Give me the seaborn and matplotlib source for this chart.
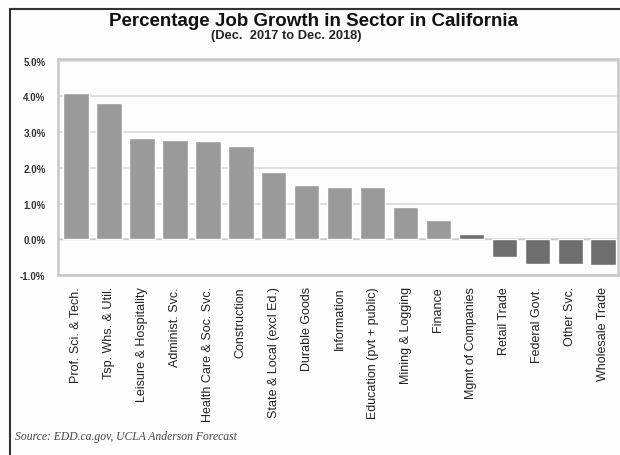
import matplotlib
matplotlib.use("Agg")
import matplotlib.pyplot as plt
import seaborn as sns
import pandas as pd
from matplotlib.lines import Line2D
from matplotlib.ticker import FuncFormatter

sectors = ["Prof. Sci. & Tech.", "Tsp. Whs. & Util.", "Leisure & Hospitality",
           "Administ. Svc.", "Health Care & Soc. Svc.", "Construction",
           "State & Local (excl Ed.)", "Durable Goods", "Information",
           "Education (pvt + public)", "Mining & Logging", "Finance",
           "Mgmt of Companies", "Retail Trade", "Federal Govt.", "Other Svc.",
           "Wholesale Trade"]
growth = [4.1, 3.83, 2.83, 2.79, 2.74, 2.6, 1.88, 1.53, 1.46, 1.46, 0.9, 0.53,
          0.15, -0.49, -0.68, -0.68, -0.73]
yticks = [-1, 0, 1, 2, 3, 4, 5]

sns.set_theme(style="white")
plt.rcParams['font.family'] = ['Liberation Sans', 'DejaVu Sans']

df = pd.DataFrame({"sector": sectors, "growth": growth})
colors = ["#9a9a9a" if v > 0.3 else "#6e6e6e" for v in growth]

fig = plt.figure(figsize=(6.2, 4.56), dpi=100)
fig.patch.set_facecolor("#fdfdfd")
ax = fig.add_axes([58/620, 1-276/456, (618-58)/620, (276-60)/456])
ax.set_facecolor("#fdfdfd")

sns.barplot(data=df, x="sector", y="growth", hue="sector", palette=colors,
            legend=False, width=0.77, ax=ax, zorder=3, saturation=1)

ax.set_ylim(-1.0, 5.05)
ax.set_xlim(-0.55, 16.45)
ax.set_yticks(yticks)
ax.yaxis.set_major_formatter(FuncFormatter(lambda v, p: f"{v:.1f}%"))
ax.grid(axis="y", color="#d8d8d8", linewidth=1.2, zorder=0)
ax.axhline(0, color="#c8c8c8", linewidth=1.0, zorder=2)
ax.set_xlabel("")
ax.set_ylabel("")
for s in ax.spines.values():
    s.set_color("#c8c8c8")
    s.set_linewidth(1.8)
ax.tick_params(axis="y", length=0, pad=9, labelsize=7, colors="#333333")
ax.tick_params(axis="x", length=0, pad=8, labelsize=9, colors="#222222")
for lab in ax.get_yticklabels():
    lab.set_fontweight("bold")
ax.set_xticks(range(len(sectors)))
ax.set_xticklabels(sectors, rotation=90, va="top", ha="center")

fig.text(0.505, 1-21/456, "Percentage Job Growth in Sector in California",
         ha="center", va="center", fontsize=13.5, fontweight="bold", color="#111111")
fig.text(0.462, 1-36/456, "(Dec.  2017 to Dec. 2018)",
         ha="center", va="center", fontsize=9.3, fontweight="bold", color="#222222")
fig.text(15/620, 1-437/456, "Source: EDD.ca.gov, UCLA Anderson Forecast",
         ha="left", va="center", fontsize=8.4, style="italic",
         family=["Liberation Serif", "DejaVu Serif"], color="#444444")

fig.add_artist(Line2D([10/620, 10/620], [0, 1-10/456], transform=fig.transFigure,
                      color="#333333", linewidth=1.5))
fig.add_artist(Line2D([10/620, 1], [1-10/456, 1-10/456], transform=fig.transFigure,
                      color="#333333", linewidth=1.5))

fig.savefig("out.png", dpi=100, facecolor=fig.get_facecolor())
